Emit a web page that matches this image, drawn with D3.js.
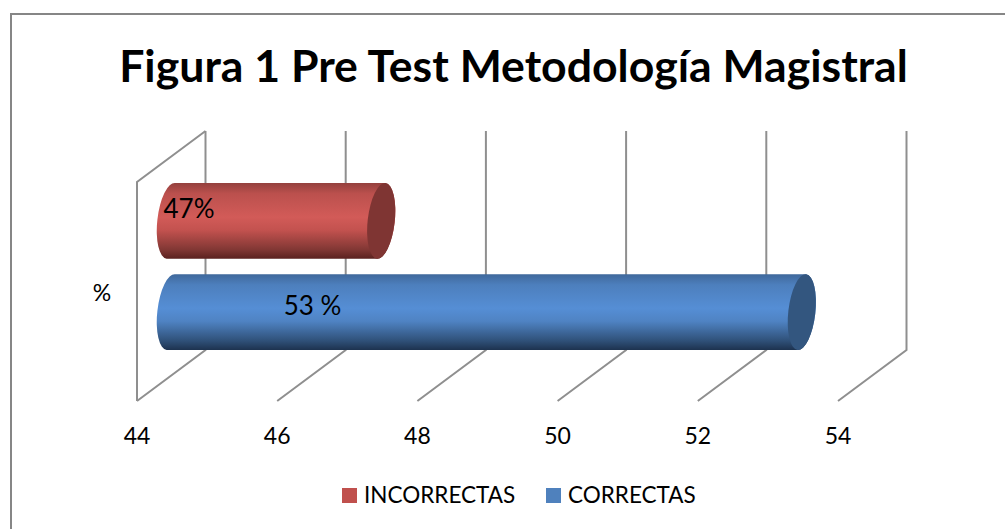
<!DOCTYPE html>
<html><head><meta charset="utf-8">
<script src="https://cdn.jsdelivr.net/npm/d3@7"></script>
<style>html,body{margin:0;padding:0;background:#fff}svg{display:block}text{font-family:Lato,"Open Sans",sans-serif;fill:#000}</style>
</head><body><div id="c"></div>
<script>
const titleText = "Figura 1 Pre Test Metodología Magistral";
const category = "%";
const seriesNames = ["CORRECTAS", "INCORRECTAS"];
const seriesValues = [53, 47];
const seriesLabels = ["53 %", "47%"];
const tickValues = [44, 46, 48, 50, 52, 54];

const W = 1005, H = 529;
const svg = d3.select("#c").append("svg").attr("width", W).attr("height", H);
const x = d3.scaleLinear().domain([44, 54]).range([137, 838]);
const depthX = 68.5, depthY = -51, floorY = 401, wallTop = 131;
const barDepth = 0.495;
const band = d3.scaleBand().domain(["CORRECTAS", "INCORRECTAS"]).range([350, 183]).paddingInner(0.17).paddingOuter(0);

const colors = {
  CORRECTAS: {legend:"#4f81bd", stops:["#3f689b","#4d7fbd","#558ed5","#4f83c3","#2f5078","#1d324f"], cap:"#33567f"},
  INCORRECTAS: {legend:"#c0504d", stops:["#94403d","#bb504d","#d25b58","#c3524f","#813734","#5a211f"], cap:"#7f3533"}
};
const defs = svg.append("defs");
seriesNames.forEach(n => {
  const g = defs.append("linearGradient").attr("id","g"+n).attr("x1",0).attr("y1",0).attr("x2",0).attr("y2",1);
  const offs = [0,.14,.45,.62,.88,1];
  colors[n].stops.forEach((c,i)=>g.append("stop").attr("offset",offs[i]).attr("stop-color",c));
});

// outer frame (open on the right and bottom)
svg.append("path").attr("d",`M${W},14H11V${H}`).attr("fill","none").attr("stroke","#868686").attr("stroke-width",2);

// walls, gridlines and floor
const wall = svg.append("g").attr("fill","none").attr("stroke","#8f8f8f").attr("stroke-width",2);
const backY = floorY + depthY;
tickValues.forEach(t => {
  const px = x(t);
  wall.append("path").attr("d",`M${px},${floorY}L${px+depthX},${backY}V${wallTop}`);
});
wall.append("path").attr("d",`M${x(44)},${floorY}V${wallTop-depthY}L${x(44)+depthX},${wallTop}`);

// cylinders
const rx = 13.5, tilt = 6.5;
seriesNames.forEach((n,i) => {
  const top = band(n), ry = band.bandwidth()/2, cy = top + ry;
  const x0 = x(44) + depthX*barDepth, x1 = x(seriesValues[i]) + depthX*barDepth;
  const dx = ry*Math.sin(tilt*Math.PI/180);
  const g = svg.append("g");
  g.append("path")
    .attr("d",`M${x0+dx},${top}L${x1+dx},${top}A${rx},${ry} ${tilt} 0 1 ${x1-dx},${top+2*ry}L${x0-dx},${top+2*ry}A${rx},${ry} ${tilt} 0 1 ${x0+dx},${top}Z`)
    .attr("fill",`url(#g${n})`);
  g.append("ellipse").attr("cx",x1).attr("cy",cy).attr("rx",rx).attr("ry",ry+0.3)
    .attr("transform",`rotate(${tilt} ${x1} ${cy})`).attr("fill",colors[n].cap);
});

// data labels
const labelPos = {CORRECTAS:[312.5,315], INCORRECTAS:[189,218]};
seriesNames.forEach((n,i)=>{
  svg.append("text").attr("x",labelPos[n][0]).attr("y",labelPos[n][1]).attr("text-anchor","middle")
    .attr("font-size",26).text(seriesLabels[i]);
});

// axis tick labels
tickValues.forEach(t => svg.append("text").attr("x",x(t)).attr("y",444).attr("text-anchor","middle").attr("font-size",23).text(t));
svg.append("text").attr("x",102).attr("y",301).attr("text-anchor","middle").attr("font-size",23).text(category);

// title
svg.append("text").attr("x",513.5).attr("y",82).attr("text-anchor","middle").attr("font-size",44.6).attr("font-weight",700).text(titleText);

// legend
const legend = [["INCORRECTAS",342,364],["CORRECTAS",546,568]];
legend.forEach(([n,sx,tx])=>{
  svg.append("rect").attr("x",sx).attr("y",488).attr("width",15).attr("height",15).attr("fill",colors[n].legend);
  svg.append("text").attr("x",tx).attr("y",503).attr("font-size",22.5).text(n);
});
</script></body></html>
